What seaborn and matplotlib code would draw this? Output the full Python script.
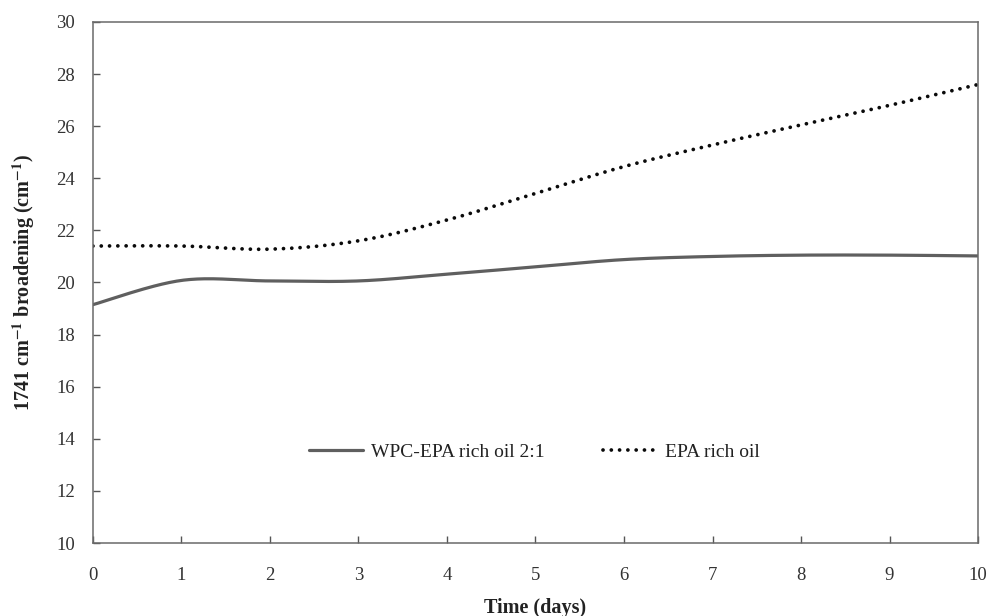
import numpy as np
import pandas as pd
import matplotlib
matplotlib.use("Agg")
import matplotlib.pyplot as plt
import seaborn as sns

# Measured broadening of the 1741 cm-1 band over storage time
days = [0, 1, 2, 3, 4, 5, 6, 7, 8, 9, 10]
wpc_epa = [19.15, 20.08, 20.06, 20.06, 20.32, 20.6, 20.88, 21.0, 21.05, 21.05, 21.02]
epa_oil = [21.4, 21.4, 21.28, 21.6, 22.4, 23.42, 24.45, 25.28, 26.05, 26.8, 27.6]
series_names = ["WPC-EPA rich oil 2:1", "EPA rich oil"]
x_ticks = list(range(0, 11))
y_ticks = list(range(10, 31, 2))


def smooth_curve(x, y, n=40):
    """Smoothed line through the points (cubic Bezier segments, Catmull-Rom style)."""
    p = np.column_stack([x, y]).astype(float)
    ext = np.vstack([p[0], p, p[-1]])
    out = []
    t = np.linspace(0, 1, n)[:, None]
    for i in range(1, len(ext) - 2):
        p0, p1, p2, p3 = ext[i - 1], ext[i], ext[i + 1], ext[i + 2]
        c1 = p1 + (p2 - p0) / 6.0
        c2 = p2 - (p3 - p1) / 6.0
        seg = ((1 - t) ** 3) * p1 + 3 * ((1 - t) ** 2) * t * c1 + 3 * (1 - t) * t ** 2 * c2 + t ** 3 * p2
        out.append(seg if i == 1 else seg[1:])
    pts = np.vstack(out)
    return pts[:, 0], pts[:, 1]


sns.set_theme(style="white")
plt.rcParams["font.family"] = ["Liberation Serif", "DejaVu Serif"]
plt.rcParams["mathtext.fontset"] = "stix"
plt.rcParams["xtick.direction"] = "in"
plt.rcParams["ytick.direction"] = "in"

fig = plt.figure(figsize=(9.9, 6.16), dpi=100)
ax = fig.add_axes([0.0939, 0.1185, 0.894, 0.8458])

frames = []
for name, vals in zip(series_names, [wpc_epa, epa_oil]):
    sx, sy = smooth_curve(days, vals)
    frames.append(pd.DataFrame({"day": sx, "value": sy, "series": name}))
df = pd.concat(frames, ignore_index=True)

sns.lineplot(data=df[df.series == series_names[0]], x="day", y="value", ax=ax,
             color="#5f5f5f", linewidth=2.3, label=series_names[0], sort=False)
sns.lineplot(data=df[df.series == series_names[1]], x="day", y="value", ax=ax,
             color="#0a0a0a", linewidth=2.7, label=series_names[1], sort=False)
dot_pattern = (0, (0.01, 2.2))
dotted = ax.lines[1]
dotted.set_linestyle(dot_pattern)
dotted.set_dash_capstyle("round")

ax.set_xlim(0, 10)
ax.set_ylim(10, 30)
ax.set_xticks(x_ticks)
ax.set_yticks(y_ticks)
ax.tick_params(axis="both", direction="in", length=5, width=1, colors="#555555",
               labelcolor="#333333", labelsize=13.5)
ax.tick_params(axis="x", top=False, bottom=True, pad=17)
ax.tick_params(axis="y", left=True, right=False, pad=13)
for side, sp in ax.spines.items():
    sp.set_visible(True)
    sp.set_color("#6a6a6a")
    sp.set_linewidth(1.1)

ax.set_xlabel("Time (days)", fontsize=14.5, fontweight="bold", color="#222222", labelpad=10)
ax.set_ylabel(r"1741 cm$^{\mathbf{-1}}$ broadening (cm$^{\mathbf{-1}}$)", fontsize=14.5,
              fontweight="bold", color="#222222", labelpad=14)

leg = ax.legend(loc="center", bbox_to_anchor=(0.499, 0.175), ncol=2, frameon=False,
                fontsize=14, handlelength=2.75, columnspacing=3.0, handletextpad=0.45)
for txt in leg.get_texts():
    txt.set_color("#222222")
leg.get_lines()[1].set_linestyle(dot_pattern)
leg.get_lines()[1].set_dash_capstyle("round")

fig.savefig("out.png", dpi=100, facecolor="white")
